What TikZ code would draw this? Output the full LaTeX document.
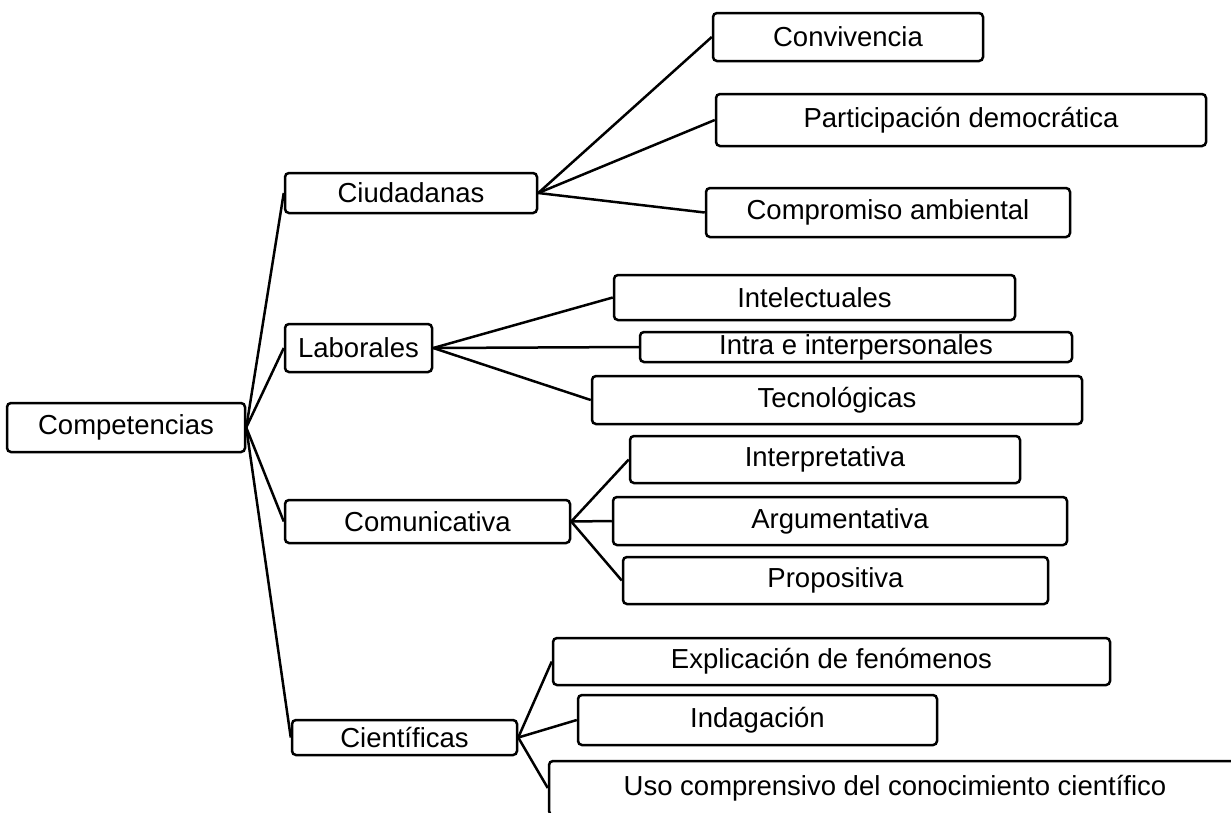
\documentclass[tikz,border=0pt]{standalone}
\usepackage{fontspec}
\setmainfont{Liberation Sans}
\usepackage{tikz}
\usetikzlibrary{positioning}

\begin{document}
\begin{tikzpicture}[x=1pt, y=-1pt, line width=2.5pt,
    every node/.style={font=\fontsize{27.5}{33}\selectfont},
    box/.style={draw, rounded corners=4pt, inner sep=0pt}]
    \clip (0,0) rectangle (1231,812);
    % root
    \node[box, minimum width=238pt, minimum height=49pt] (COMP) at (126,427.5) {Competencias};
    % first level
    \node[box, minimum width=252pt, minimum height=40pt] (CIUD) at (411,193) {Ciudadanas};
    \node[box, minimum width=147pt, minimum height=48pt] (LAB) at (358.5,348) {Laborales};
    \node[box, minimum width=285pt, minimum height=43pt] (COMU) at (427.5,521.5) {Comunicativa};
    \node[box, minimum width=225pt, minimum height=35pt] (CIEN) at (404.5,737.5) {Científicas};
    % second level
    \node[box, minimum width=270pt, minimum height=48pt] (CONV) at (848,37) {Convivencia};
    \node[box, minimum width=490pt, minimum height=52pt] (PART) at (961,120) {Participación democrática};
    \node[box, minimum width=364pt, minimum height=49pt] (AMB) at (888,212.5) {Compromiso ambiental};
    \node[box, minimum width=401pt, minimum height=45pt] (INTEL) at (814.5,297.5) {Intelectuales};
    \node[box, minimum width=432pt, minimum height=30pt] (INTRA) at (856,347) {Intra e interpersonales};
    \node[box, minimum width=490pt, minimum height=48pt] (TEC) at (837,400) {Tecnológicas};
    \node[box, minimum width=390pt, minimum height=47pt] (INTERP) at (825,459.5) {Interpretativa};
    \node[box, minimum width=454pt, minimum height=48pt] (ARG) at (840,521) {Argumentativa};
    \node[box, minimum width=425pt, minimum height=47pt] (PROP) at (835.5,580.5) {Propositiva};
    \node[box, minimum width=557pt, minimum height=47pt] (EXPL) at (831.5,661.5) {Explicación de fenómenos};
    \node[box, minimum width=359pt, minimum height=50pt] (INDAG) at (757.5,720) {Indagación};
    \node[box, minimum width=692pt, minimum height=54pt] (USO) at (895,788) {Uso comprensivo del conocimiento científico};

    \path (COMP.east) edge (CIUD.west)
          (COMP.east) edge (LAB.west)
          (COMP.east) edge (COMU.west)
          (COMP.east) edge (CIEN.west)
          (CIUD.east) edge (CONV.west)
          (CIUD.east) edge (PART.west)
          (CIUD.east) edge (AMB.west)
          (LAB.east) edge (INTEL.west)
          (LAB.east) edge (INTRA.west)
          (LAB.east) edge (TEC.west)
          (COMU.east) edge (INTERP.west)
          (COMU.east) edge (ARG.west)
          (COMU.east) edge (PROP.west)
          (CIEN.east) edge (EXPL.west)
          (CIEN.east) edge (INDAG.west)
          (CIEN.east) edge (USO.west);
\end{tikzpicture}
\end{document}
